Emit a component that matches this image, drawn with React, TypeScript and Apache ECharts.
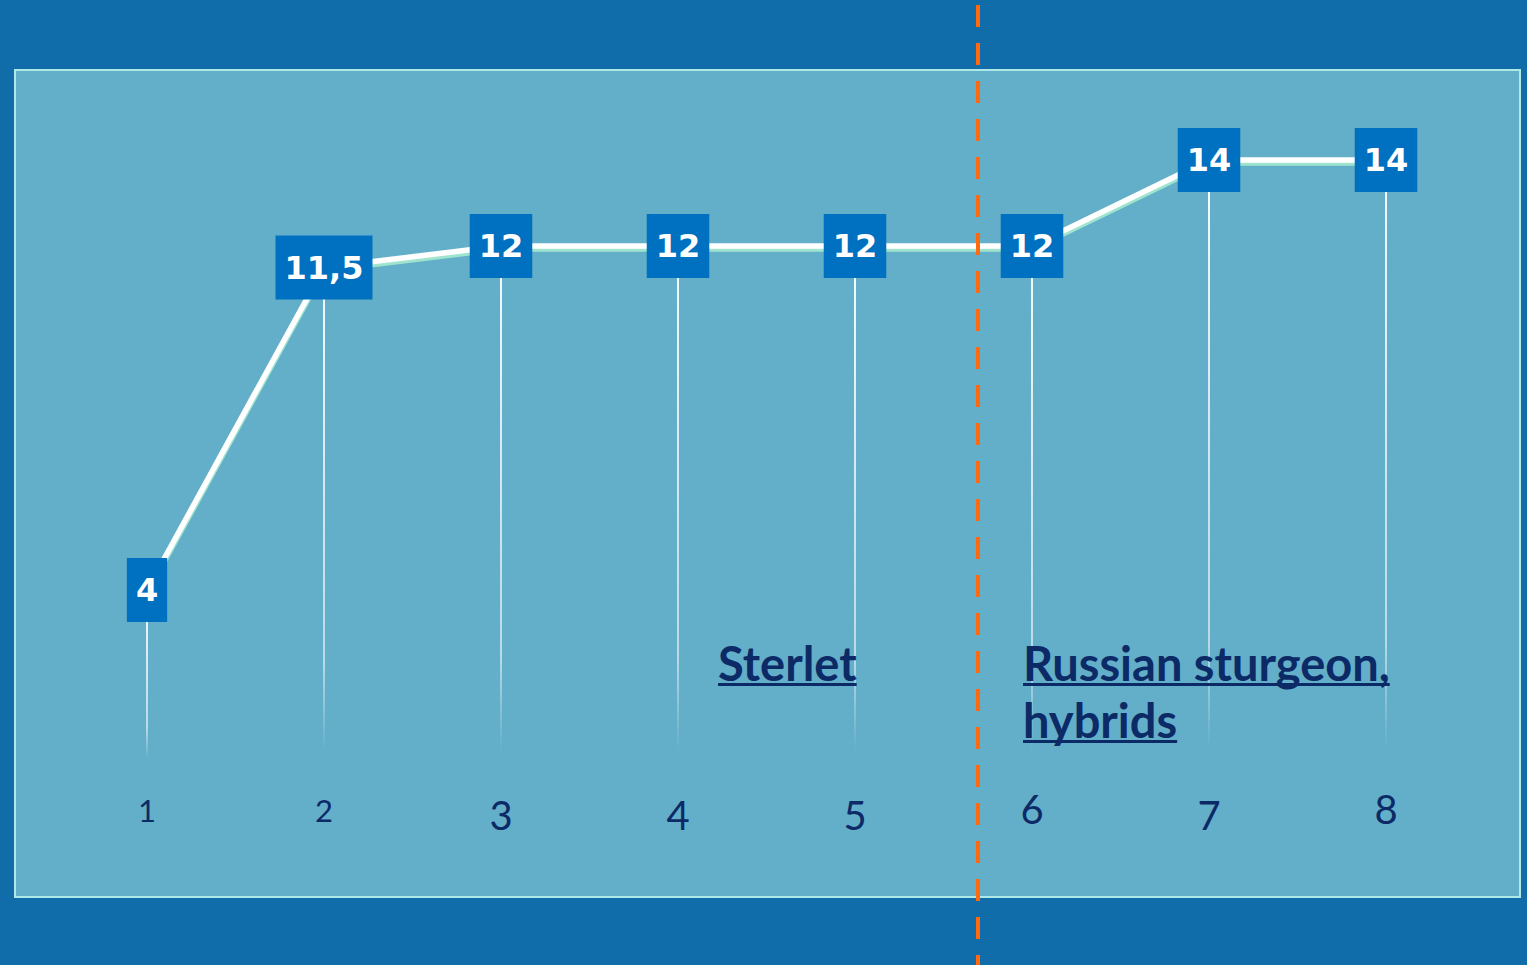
import React, { useEffect, useRef } from "react";
import * as echarts from "echarts";

// Fish groups along the x axis and the value at each step
const categories = ["1", "2", "3", "4", "5", "6", "7", "8"];
const values = [4, 11.5, 12, 12, 12, 12, 14, 14];
const groupTitleLeft = ["Sterlet"];
const groupTitleRight = ["Russian sturgeon,", "hybrids"];

// Tick label look per category (small / low / high)
const tickLook: Record<string, string> = {
  "1": "sm",
  "2": "sm",
  "3": "lo",
  "4": "lo",
  "5": "lo",
  "6": "hi",
  "7": "lo",
  "8": "hi",
};

const NAVY = "#0c2a66";
const TITLE_FONT = "bold 47px Lato";

function measure(text: string, font: string): number {
  const ctx = document.createElement("canvas").getContext("2d");
  if (!ctx) return text.length * 20;
  ctx.font = font;
  return ctx.measureText(text).width;
}

function titleBlock(lines: string[], x: number, y0: number, lh: number) {
  const out: any[] = [];
  lines.forEach((t, i) => {
    const y = y0 + i * lh;
    out.push({
      type: "text",
      z: 50,
      style: {
        text: t,
        x,
        y,
        font: TITLE_FONT,
        fill: NAVY,
        textAlign: "left",
        textVerticalAlign: "middle",
      },
    });
    out.push({
      type: "rect",
      z: 50,
      shape: { x, y: y + 20, width: measure(t, TITLE_FONT), height: 3 },
      style: { fill: NAVY },
    });
  });
  return out;
}

export default function App() {
  const ref = useRef<HTMLDivElement>(null);

  useEffect(() => {
    if (!ref.current) return;
    const chart = echarts.init(ref.current, undefined, { renderer: "svg" });

    chart.setOption({
      animation: false,
      backgroundColor: "#116caa",
      grid: { left: 58.5, right: 52.5, top: 74, bottom: 203 },
      xAxis: {
        type: "category",
        data: categories,
        axisLine: { show: false },
        axisTick: { show: false },
        splitLine: { show: false },
        axisLabel: {
          margin: 20,
          formatter: (v: string) => `{${tickLook[v] || "lo"}|${v}}`,
          rich: {
            sm: {
              fontFamily: "Lato",
              fontSize: 31,
              lineHeight: 30,
              color: NAVY,
              padding: [26, 0, 0, 0],
            },
            lo: {
              fontFamily: "Lato",
              fontSize: 40,
              lineHeight: 40,
              color: NAVY,
              padding: [26, 0, 0, 0],
            },
            hi: {
              fontFamily: "Lato",
              fontSize: 40,
              lineHeight: 40,
              color: NAVY,
              padding: [14, 0, 0, 0],
            },
          },
        },
      },
      yAxis: {
        type: "value",
        min: 0,
        max: 16,
        show: false,
        splitLine: { show: false },
      },
      series: [
        {
          // vertical drop lines fading toward the axis
          type: "bar",
          z: 2,
          barWidth: 2,
          silent: true,
          data: values,
          itemStyle: {
            color: new echarts.graphic.LinearGradient(0, 0, 0, 1, [
              { offset: 0, color: "rgba(255,255,255,0.95)" },
              { offset: 0.8, color: "rgba(255,255,255,0.55)" },
              { offset: 0.98, color: "rgba(255,255,255,0)" },
              { offset: 1, color: "rgba(255,255,255,0)" },
            ]),
          },
        },
        {
          type: "line",
          z: 3,
          data: values,
          symbol: "circle",
          symbolSize: 1,
          itemStyle: { color: "#0070c0" },
          lineStyle: {
            color: "#ffffff",
            width: 5.5,
            shadowColor: "#9fe4cf",
            shadowOffsetY: 3,
            shadowBlur: 0,
          },
          emphasis: { disabled: true },
          label: {
            show: true,
            position: "inside",
            formatter: (p: any) => String(p.value).replace(".", ","),
            fontFamily: "DejaVu Sans",
            fontWeight: "bold",
            fontSize: 32,
            lineHeight: 32,
            color: "#ffffff",
            backgroundColor: "#0070c0",
            padding: [21, 9, 11, 9],
          },
        },
      ],
      graphic: [
        {
          type: "rect",
          z: -10,
          shape: { x: 15, y: 70, width: 1505, height: 827 },
          style: { fill: "#63aec9", stroke: "#ade9e6", lineWidth: 2 },
        },
        ...titleBlock(groupTitleLeft, 718, 663, 57),
        ...titleBlock(groupTitleRight, 1023, 663, 57),
        {
          type: "line",
          z: 100,
          shape: { x1: 978, y1: 5, x2: 978, y2: 965 },
          style: { stroke: "#ff6a0e", lineWidth: 4, lineDash: [22, 16] },
        },
      ],
    });

    return () => chart.dispose();
  }, []);

  return (
    <div
      ref={ref}
      style={{ position: "fixed", left: 0, top: 0, width: 1527, height: 965 }}
    />
  );
}
